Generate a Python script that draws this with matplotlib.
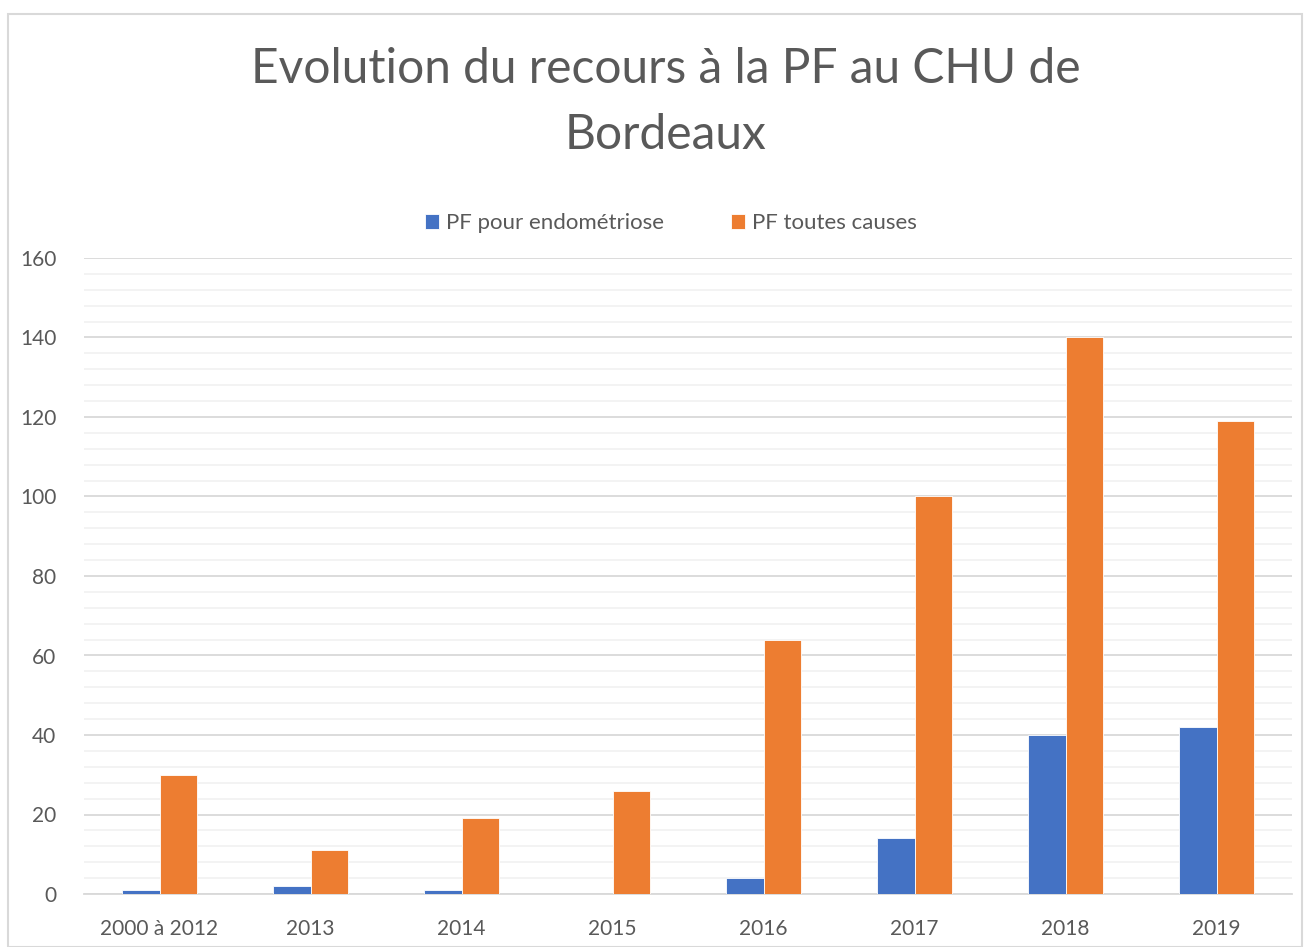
import matplotlib
matplotlib.use("Agg")
import matplotlib.pyplot as plt
from matplotlib.patches import Rectangle
import numpy as np

categories = ["2000 à 2012", "2013", "2014", "2015", "2016", "2017", "2018", "2019"]
endometriose = [1, 2, 1, 0, 4, 14, 40, 42]
toutes_causes = [30, 11, 19, 26, 64, 100, 140, 119]
series_names = ["PF pour endométriose", "PF toutes causes"]
title = "Evolution du recours à la PF au CHU de\nBordeaux"

plt.rcParams['font.family'] = ['Lato', 'DejaVu Sans']
txt = "#595959"

fig = plt.figure(figsize=(13.1, 9.47), dpi=100)
fig.patches.append(Rectangle((8/1310, 0), 1 - 16/1310, 1 - 14/947, transform=fig.transFigure,
                             fill=False, edgecolor="#d9d9d9", linewidth=1.5))
ax = fig.add_axes([84/1310, 1 - 894/947, (1292 - 84)/1310, (894 - 258)/947])

x = np.arange(len(categories))
w = 0.25
ax.bar(x - w/2, endometriose, width=w, color="#4472c4", edgecolor="white", linewidth=0.6,
       label=series_names[0], zorder=3)
ax.bar(x + w/2, toutes_causes, width=w, color="#ed7d31", edgecolor="white", linewidth=0.6,
       label=series_names[1], zorder=3)

ax.set_xlim(-0.5, len(categories) - 0.5)
ax.set_ylim(0, 160)
ax.set_yticks(np.arange(0, 161, 20))
ax.set_yticks(np.arange(0, 161, 4), minor=True)
ax.grid(axis="y", which="major", color="#d9d9d9", linewidth=1.3, zorder=0)
ax.grid(axis="y", which="minor", color="#f2f2f2", linewidth=1.3, zorder=0)
ax.set_xticks(x)
ax.set_xticklabels(categories)
ax.tick_params(axis="both", which="both", length=0, labelsize=15, colors=txt, labelcolor=txt)
ax.tick_params(axis="x", pad=18)
ax.tick_params(axis="y", pad=20)
for s in ["top", "right", "left"]:
    ax.spines[s].set_visible(False)
ax.spines["bottom"].set_color("#d9d9d9")
ax.spines["bottom"].set_linewidth(1.3)

fig.text(0.508, 1 - 102/947, title, ha="center", va="center", fontsize=34.5, color=txt,
         linespacing=1.6)
leg = fig.legend(loc="center", bbox_to_anchor=(0.512, 1 - 223/947), ncol=2, frameon=False,
                 fontsize=16, handlelength=0.65, handleheight=0.65, handletextpad=0.3,
                 columnspacing=3.0)
for t in leg.get_texts():
    t.set_color(txt)

fig.savefig("out.png", dpi=100)
